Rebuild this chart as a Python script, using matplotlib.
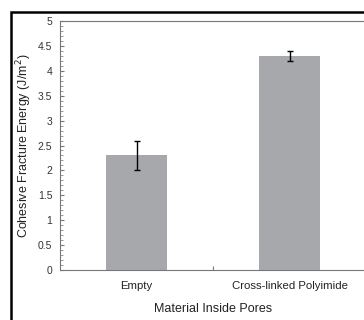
import matplotlib
matplotlib.use('Agg')
import matplotlib.pyplot as plt
from matplotlib.patches import Rectangle
from matplotlib.ticker import MultipleLocator

plt.rcParams['font.family'] = ['Liberation Sans', 'DejaVu Sans']

# data
categories = ['Empty', 'Cross-linked Polyimide']
energy = [2.3, 4.3]
energy_err = [0.3, 0.1]
y_ticks = [0, 0.5, 1, 1.5, 2, 2.5, 3, 3.5, 4, 4.5, 5]
y_labels = ['0', '0.5', '1', '1.5', '2', '2.5', '3', '3.5', '4', '4.5', '5']

fig = plt.figure(figsize=(3.64, 3.2), dpi=100)
ax = fig.add_axes([60/364, 1-270/320, 306/364, 249/320])

x = list(range(len(categories)))
ax.bar(x, energy, width=0.4, color='#a7a8ab', zorder=2)
ax.errorbar(x, energy, yerr=energy_err, fmt='none', ecolor='black',
            elinewidth=1.0, capsize=2, capthick=1.0, zorder=3)

ax.set_xlim(-0.5, 1.5)
ax.set_xticks([0, 0.5, 1])
ax.set_xticklabels([categories[0], '', categories[1]])
ax.set_yticks(y_ticks)
ax.set_yticklabels(y_labels)
ax.yaxis.set_minor_locator(MultipleLocator(0.1))
ax.set_ylim(0, 5)

for s in ax.spines.values():
    s.set_color('#777777')
    s.set_linewidth(0.8)
ax.tick_params(axis='x', direction='in', length=3, color='#777777', labelsize=8.2,
               labelcolor='#222222', pad=8)
ax.tick_params(axis='y', which='major', direction='in', length=3, color='#777777',
               labelsize=7.5, labelcolor='#333333', pad=5.5)
ax.tick_params(axis='y', which='minor', direction='in', length=2.2, color='#888888')

ax.set_ylabel('Cohesive Fracture Energy (J/m$^2$)', fontsize=9, color='#222222')
ax.yaxis.set_label_coords(-26/306, 0.5)
ax.set_xlabel('Material Inside Pores', fontsize=9, color='#222222')
ax.xaxis.set_label_coords(153/306, -33/249)

# thick black frame around the figure, cut off at right and bottom
frame = Rectangle((11/364, -0.1), 1.2, 1 - 12/320 + 0.1, transform=fig.transFigure,
                  fill=False, edgecolor='black', linewidth=1.8, clip_on=False)
fig.patches.append(frame)

fig.savefig('out.png', dpi=100)
